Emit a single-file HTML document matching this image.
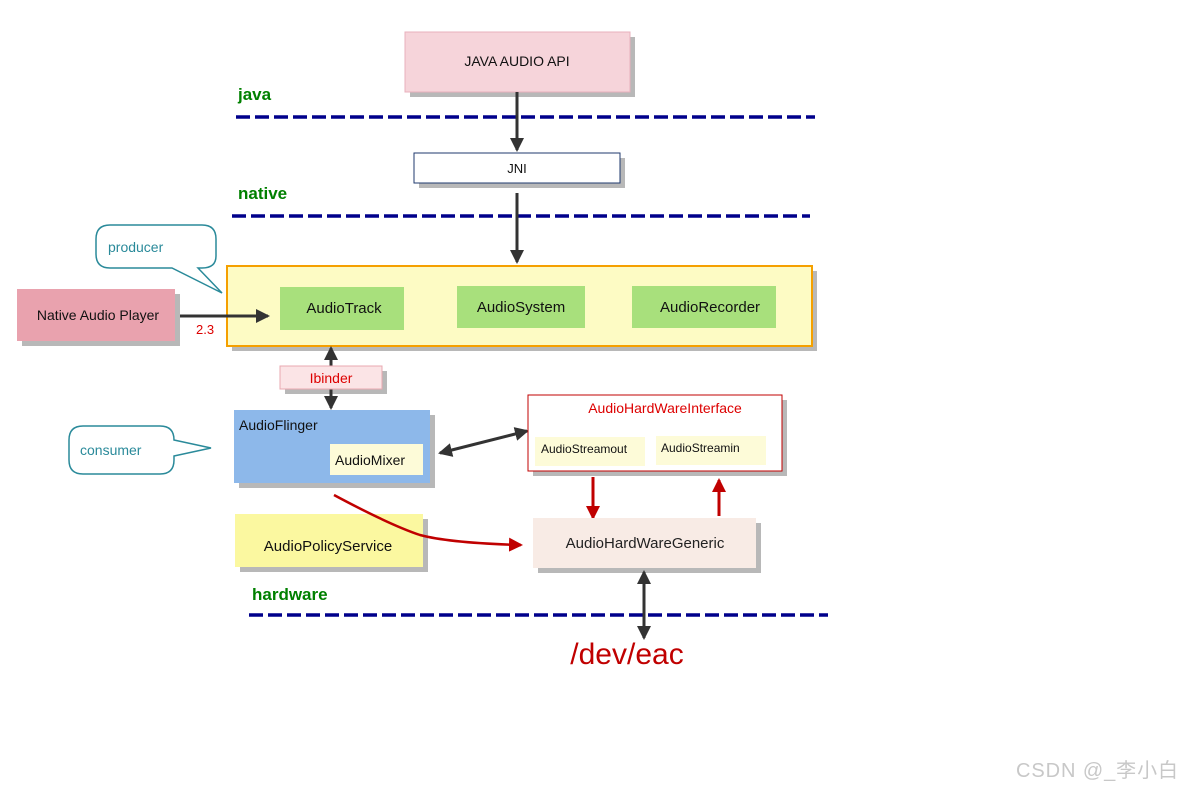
<!DOCTYPE html>
<html><head><meta charset="utf-8"><style>
html,body{margin:0;padding:0;background:#fff;}
svg{display:block;font-family:"Liberation Sans",Arial,sans-serif;}
</style></head><body>
<svg width="1183" height="789" viewBox="0 0 1183 789" xmlns="http://www.w3.org/2000/svg">
<defs>
<marker id="ak" markerWidth="14" markerHeight="14" refX="12" refY="7" orient="auto-start-reverse" markerUnits="userSpaceOnUse"><path d="M0,0 L14,7 L0,14 z" fill="#333"/></marker>
<marker id="ar" markerWidth="14" markerHeight="14" refX="12" refY="7" orient="auto-start-reverse" markerUnits="userSpaceOnUse"><path d="M0,0 L14,7 L0,14 z" fill="#c00000"/></marker>
</defs>
<g fill="#b8b8b8">
<rect x="410" y="37" width="225" height="60"/>
<rect x="419" y="158" width="206" height="30"/>
<rect x="232" y="271" width="585" height="80"/>
<rect x="22" y="294" width="158" height="52"/>
<rect x="285" y="292" width="124" height="43"/>
<rect x="462" y="291" width="128" height="42"/>
<rect x="637" y="291" width="144" height="42"/>
<rect x="285" y="371" width="102" height="23"/>
<rect x="239" y="415" width="196" height="73"/>
<rect x="533" y="400" width="254" height="76"/>
<rect x="538" y="523" width="223" height="50"/>
<rect x="240" y="519" width="188" height="53"/>
</g>
<g stroke="#00008b" stroke-width="3.5" stroke-dasharray="14,5">
<line x1="236" y1="117" x2="815" y2="117"/>
<line x1="232" y1="216" x2="810" y2="216"/>
<line x1="249" y1="615" x2="828" y2="615"/>
</g>
<g font-weight="bold" fill="#008000" font-size="17">
<text x="238" y="100">java</text>
<text x="238" y="199">native</text>
<text x="252" y="600">hardware</text>
</g>
<rect x="405" y="32" width="225" height="60" fill="#f6d4da" stroke="#e8b0bc"/>
<text x="517" y="66" text-anchor="middle" font-size="14" fill="#111">JAVA AUDIO API</text>
<rect x="414" y="153" width="206" height="30" fill="#fff" stroke="#1f3a6e"/>
<text x="517" y="173" text-anchor="middle" font-size="13" fill="#111">JNI</text>
<line x1="517" y1="92" x2="517" y2="150" stroke="#333" stroke-width="3" marker-end="url(#ak)"/>
<line x1="517" y1="193" x2="517" y2="262" stroke="#333" stroke-width="3" marker-end="url(#ak)"/>
<rect x="227" y="266" width="585" height="80" fill="#fdfbc4" stroke="#f5a000" stroke-width="2"/>
<rect x="280" y="287" width="124" height="43" fill="#a8e07c"/>
<rect x="457" y="286" width="128" height="42" fill="#a8e07c"/>
<rect x="632" y="286" width="144" height="42" fill="#a8e07c"/>
<g font-size="15" fill="#111" text-anchor="middle">
<text x="344" y="313">AudioTrack</text>
<text x="521" y="312">AudioSystem</text>
<text x="710" y="312">AudioRecorder</text>
</g>
<rect x="17" y="289" width="158" height="52" fill="#e9a2ae"/>
<text x="98" y="320" text-anchor="middle" font-size="14" fill="#111">Native Audio Player</text>
<line x1="180" y1="316" x2="268" y2="316" stroke="#333" stroke-width="3" marker-end="url(#ak)"/>
<text x="196" y="334" font-size="13" fill="#d00">2.3</text>
<path d="M110,225 H202 Q216,225 216,239 V256 Q216,268 202,268 H198 L222,293 L172,268 H110 Q96,268 96,254 V239 Q96,225 110,225 Z" fill="#fff" stroke="#2a8a9a" stroke-width="1.5"/>
<text x="108" y="252" font-size="14" fill="#2a8a9a">producer</text>
<line x1="331" y1="348" x2="331" y2="408" stroke="#333" stroke-width="3" marker-start="url(#ak)" marker-end="url(#ak)"/>
<rect x="280" y="366" width="102" height="23" fill="#fbe4e6" stroke="#e8a8b0"/>
<text x="331" y="383" text-anchor="middle" font-size="14" fill="#d00">Ibinder</text>
<rect x="234" y="410" width="196" height="73" fill="#8db8ea"/>
<text x="239" y="430" font-size="14" fill="#111">AudioFlinger</text>
<rect x="330" y="444" width="93" height="31" fill="#fdfbd8"/>
<text x="335" y="465" font-size="14" fill="#111">AudioMixer</text>
<path d="M83,426 H160 Q174,426 174,440 L211,448 L174,456 V460 Q174,474 160,474 H83 Q69,474 69,460 V440 Q69,426 83,426 Z" fill="#fff" stroke="#2a8a9a" stroke-width="1.5"/>
<text x="80" y="455" font-size="14" fill="#2a8a9a">consumer</text>
<line x1="440" y1="453" x2="527" y2="431" stroke="#333" stroke-width="3" marker-start="url(#ak)" marker-end="url(#ak)"/>
<rect x="528" y="395" width="254" height="76" fill="#fff" stroke="#c00000"/>
<text x="665" y="413" text-anchor="middle" font-size="14" fill="#d00">AudioHardWareInterface</text>
<rect x="535" y="437" width="110" height="29" fill="#fdfbd8"/>
<rect x="656" y="436" width="110" height="29" fill="#fdfbd8"/>
<text x="541" y="453" font-size="12" fill="#111">AudioStreamout</text>
<text x="661" y="452" font-size="12" fill="#111">AudioStreamin</text>
<line x1="593" y1="477" x2="593" y2="518" stroke="#c00000" stroke-width="3" marker-end="url(#ar)"/>
<line x1="719" y1="516" x2="719" y2="480" stroke="#c00000" stroke-width="3" marker-end="url(#ar)"/>
<rect x="533" y="518" width="223" height="50" fill="#f8ebe5"/>
<text x="645" y="548" text-anchor="middle" font-size="15" fill="#222">AudioHardWareGeneric</text>
<rect x="235" y="514" width="188" height="53" fill="#fbf8a0"/>
<text x="328" y="551" text-anchor="middle" font-size="15" fill="#111">AudioPolicyService</text>
<path d="M334,495 Q390,525 420,535 Q450,543 521,545" fill="none" stroke="#c00000" stroke-width="2.5" marker-end="url(#ar)"/>
<line x1="644" y1="572" x2="644" y2="638" stroke="#333" stroke-width="3" marker-start="url(#ak)" marker-end="url(#ak)"/>
<text x="627" y="664" text-anchor="middle" font-size="30" fill="#c00000">/dev/eac</text>
<text x="1016" y="777" font-size="20" fill="#c8c8c8" textLength="162" font-family="Liberation Sans, Noto Sans CJK SC, sans-serif">CSDN @_李小白</text>
</svg>
</body></html>
